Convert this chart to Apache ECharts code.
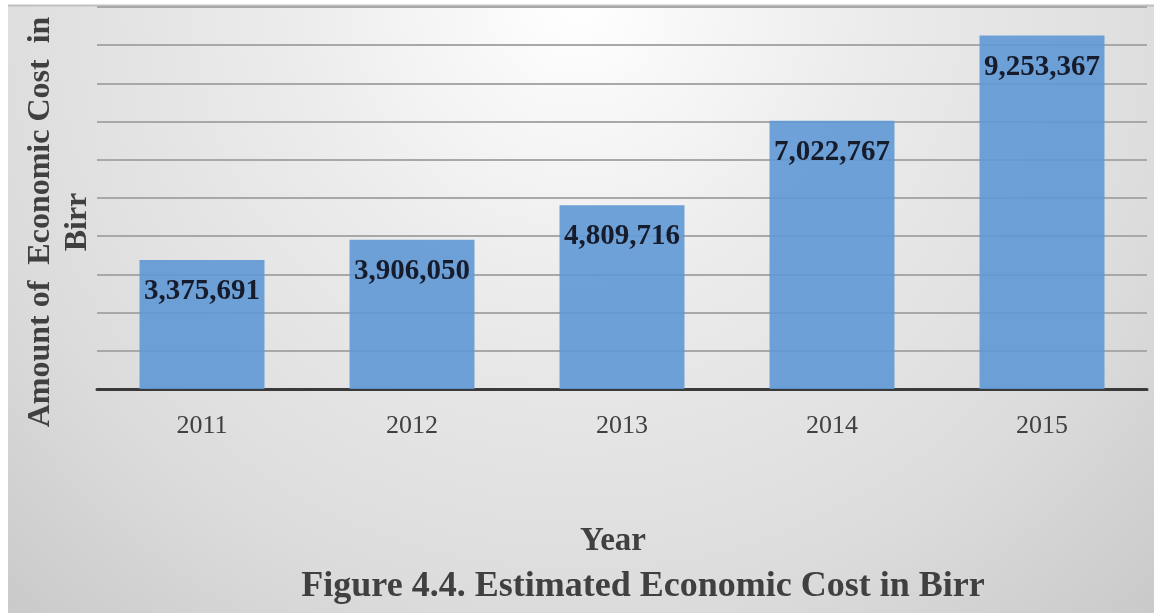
<!DOCTYPE html>
<html>
<head>
<meta charset="utf-8">
<script src="https://cdn.jsdelivr.net/npm/echarts@6/dist/echarts.min.js"></script>
<style>
html,body{margin:0;padding:0;background:#fff;}
#chart{width:1154px;height:613px;}
</style>
</head>
<body>
<div id="chart"></div>
<script>
var categories = ['2011', '2012', '2013', '2014', '2015'];
var values = [3375691, 3906050, 4809716, 7022767, 9253367];
var yAxisTitle = 'Amount of  Economic Cost  in\nBirr';
var xAxisTitle = 'Year';
var figureCaption = 'Figure 4.4. Estimated Economic Cost in Birr';

var serif = '"Liberation Serif", "Times New Roman", serif';
var chart = echarts.init(document.getElementById('chart'));
chart.setOption({
  animation: false,
  backgroundColor: {
    type: 'radial', x: 0.5, y: 0.0, r: 1.4,
    colorStops: [
      {offset: 0, color: '#ffffff'},
      {offset: 0.35, color: '#ebebeb'},
      {offset: 0.71, color: '#dcdcdc'},
      {offset: 1, color: '#c8c8c8'}
    ]
  },
  grid: {left: 97, right: 7, top: 7, bottom: 224, outerBoundsMode: 'none', containLabel: false},
  xAxis: {
    type: 'category',
    data: categories,
    axisTick: {show: false},
    axisLine: {lineStyle: {color: '#3a3a3a', width: 3}},
    axisLabel: {color: '#404040', fontFamily: serif, fontSize: 26, margin: 24}
  },
  yAxis: {
    type: 'value',
    min: 0, max: 10000000, interval: 1000000,
    axisLabel: {show: false},
    axisLine: {show: false},
    axisTick: {show: false},
    splitLine: {lineStyle: {color: '#a8a8a8', width: 2}}
  },
  series: [{
    type: 'bar',
    data: values,
    barCategoryGap: '40.5%',
    itemStyle: {color: '#5e98d5', opacity: 0.9},
    label: {
      show: true,
      position: 'insideTop',
      distance: 17,
      formatter: function (p) { return p.value.toLocaleString('en-US'); },
      color: '#0d0d1a',
      fontFamily: serif,
      fontWeight: 'bold',
      fontSize: 29
    }
  }],
  graphic: [
    {type: 'rect', left: 0, top: 0, shape: {width: 8, height: 613}, style: {fill: '#ffffff'}, silent: true},
    {type: 'rect', left: 0, top: 0, shape: {width: 1154, height: 5}, style: {fill: '#ffffff'}, silent: true},
    {type: 'line', shape: {x1: 8, y1: 5.5, x2: 1154, y2: 5.5}, style: {stroke: '#c0c0c0', lineWidth: 2}, silent: true},
    {type: 'text', x: 59, y: 222, rotation: Math.PI / 2, style: {text: yAxisTitle, fill: '#404040', font: 'bold 32px ' + serif, lineHeight: 37, textAlign: 'center', textVerticalAlign: 'middle'}},
    {type: 'text', x: 613, y: 541, style: {text: xAxisTitle, fill: '#404040', font: 'bold 33px ' + serif, textAlign: 'center', textVerticalAlign: 'middle'}},
    {type: 'text', x: 643, y: 587, style: {text: figureCaption, fill: '#404040', font: 'bold 36px ' + serif, textAlign: 'center', textVerticalAlign: 'middle'}}
  ]
});
</script>
</body>
</html>
